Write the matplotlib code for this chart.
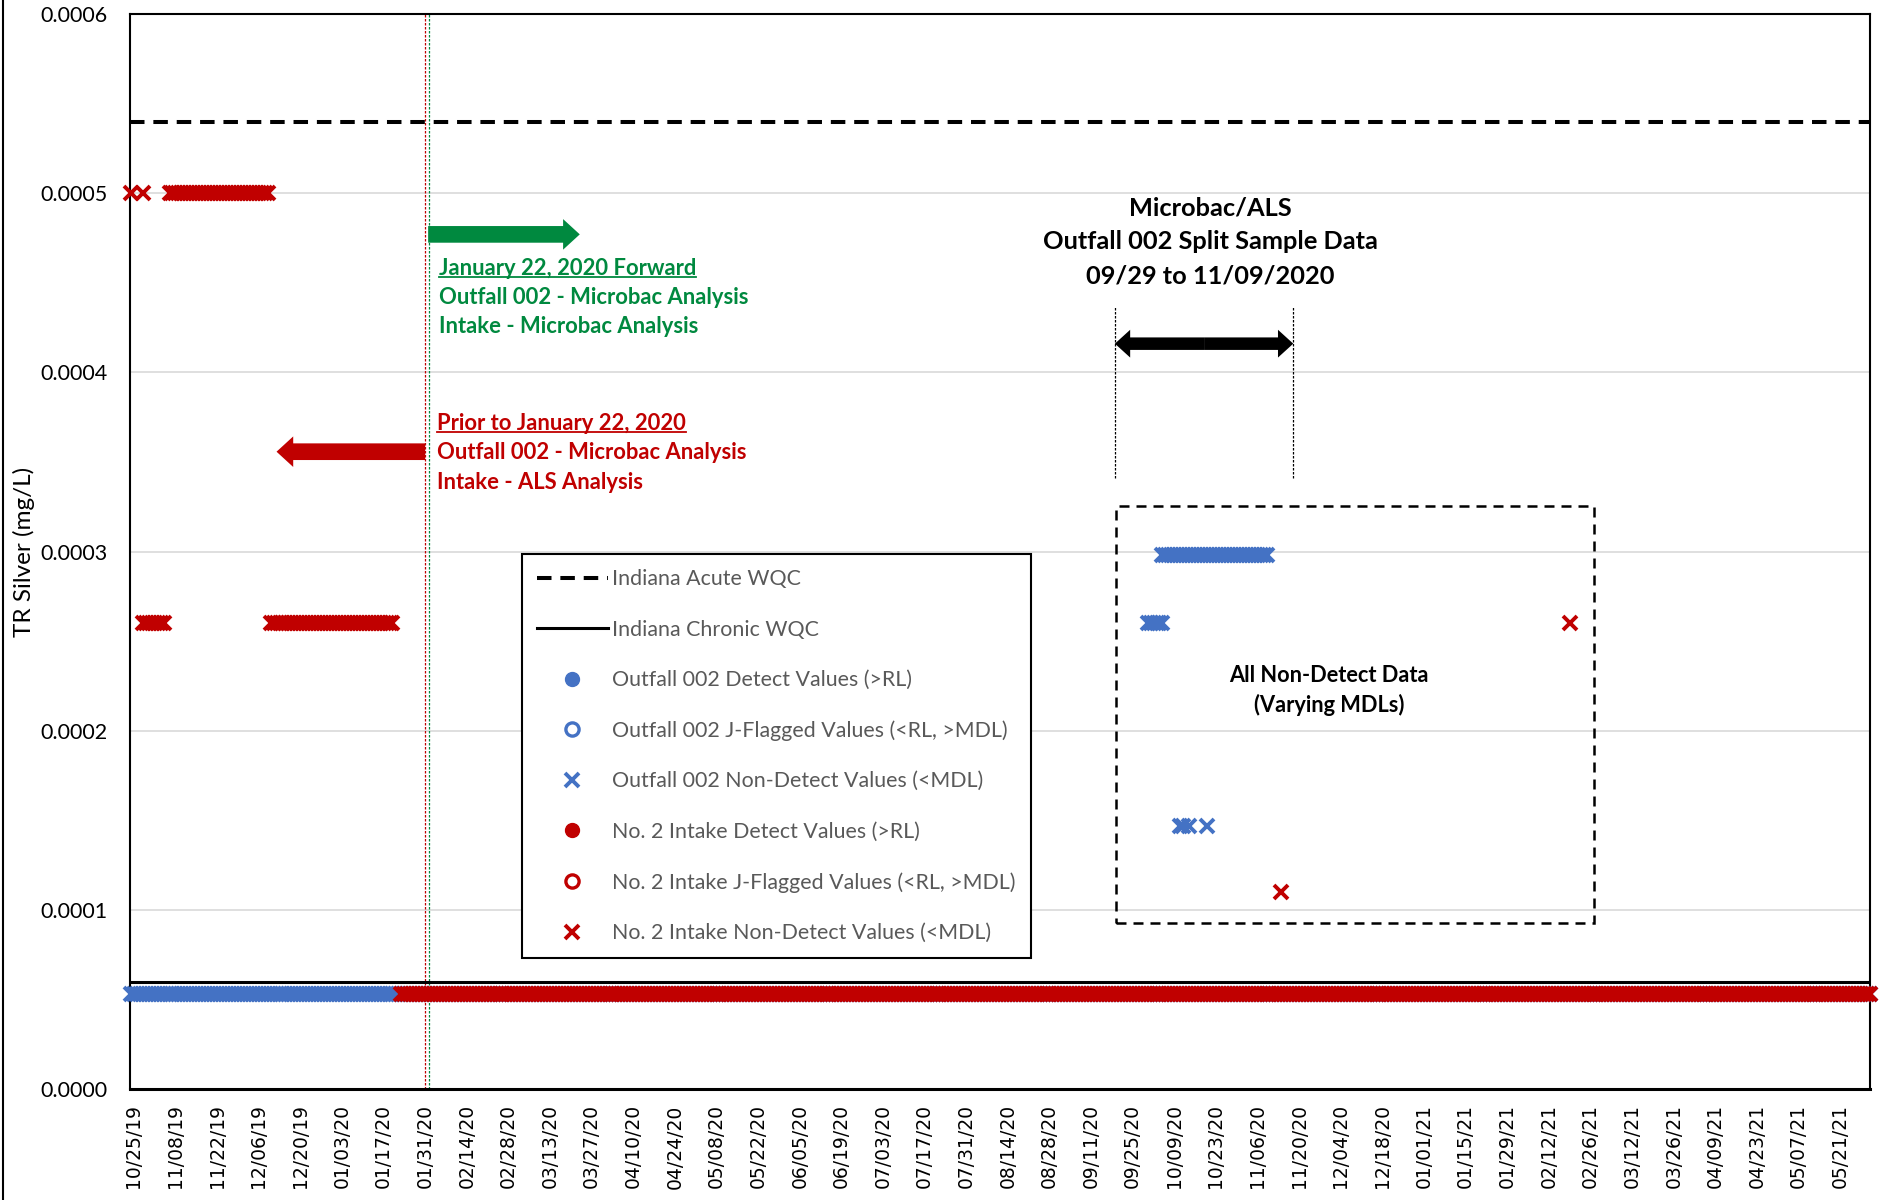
import pandas as pd
import matplotlib
matplotlib.use("Agg")
import matplotlib.pyplot as plt
import matplotlib.dates as mdates
from matplotlib.patches import FancyArrowPatch, Rectangle
from matplotlib.lines import Line2D

# ---------------------------------------------------------------- data
# Water quality criteria (mg/L)
acute_wqc = 0.00054
chronic_wqc = 0.00006

# Outfall 002 non-detects reported as continuous daily runs: first day, last day, MDL
outfall_nd_start = ["2019-10-24", "2020-09-30", "2020-10-05"]
outfall_nd_end = ["2021-05-31", "2020-10-05", "2020-11-09"]
outfall_nd_value = [0.000053, 0.00026, 0.000298]
# Outfall 002 individual non-detects
outfall_nd_dates = ["2020-10-11", "2020-10-12", "2020-10-14", "2020-10-20"]
outfall_nd_values = [0.000147, 0.000147, 0.000147, 0.000147]

# No. 2 Intake non-detects, daily runs
intake_nd_start = ["2019-11-06", "2019-10-28", "2019-12-10", "2020-01-23"]
intake_nd_end = ["2019-12-09", "2019-11-04", "2020-01-20", "2021-05-31"]
intake_nd_value = [0.0005, 0.00026, 0.00026, 0.000053]
# No. 2 Intake individual non-detects
intake_nd_dates = ["2019-10-24", "2019-10-28", "2020-11-14", "2021-02-19"]
intake_nd_values = [0.0005, 0.0005, 0.00011, 0.00026]

# Detects and J-flagged results (none in this period)
outfall_detect_dates, outfall_detect_values = [], []
outfall_jflag_dates, outfall_jflag_values = [], []
intake_detect_dates, intake_detect_values = [], []
intake_jflag_dates, intake_jflag_values = [], []

tick_labels = [
    "10/25/19", "11/08/19", "11/22/19", "12/06/19", "12/20/19", "01/03/20",
    "01/17/20", "01/31/20", "02/14/20", "02/28/20", "03/13/20", "03/27/20",
    "04/10/20", "04/24/20", "05/08/20", "05/22/20", "06/05/20", "06/19/20",
    "07/03/20", "07/17/20", "07/31/20", "08/14/20", "08/28/20", "09/11/20",
    "09/25/20", "10/09/20", "10/23/20", "11/06/20", "11/20/20", "12/04/20",
    "12/18/20", "01/01/21", "01/15/21", "01/29/21", "02/12/21", "02/26/21",
    "03/12/21", "03/26/21", "04/09/21", "04/23/21", "05/07/21", "05/21/21",
]
y_ticks = [0.0, 0.0001, 0.0002, 0.0003, 0.0004, 0.0005, 0.0006]


def expand(starts, ends, values, dates, singles):
    xs, ys = [], []
    for s, e, v in zip(starts, ends, values):
        rng = pd.date_range(s, e, freq="D")
        xs.extend(rng)
        ys.extend([v] * len(rng))
    xs.extend(pd.to_datetime(dates))
    ys.extend(singles)
    return xs, ys


out_x, out_y = expand(outfall_nd_start, outfall_nd_end, outfall_nd_value,
                      outfall_nd_dates, outfall_nd_values)
int_x, int_y = expand(intake_nd_start, intake_nd_end, intake_nd_value,
                      intake_nd_dates, intake_nd_values)

# ---------------------------------------------------------------- style
BLUE = "#4472C4"
RED = "#C00000"
GREEN = "#00893F"
FONT = "Lato"

W, H = 1885, 1200
fig = plt.figure(figsize=(W / 100, H / 100), dpi=100)
ax = fig.add_axes([130 / W, 1 - 1089 / H, 1740 / W, 1075 / H])

x0 = pd.Timestamp("2019-10-23 17:00")
x1 = pd.Timestamp("2021-05-31")
ax.set_xlim(x0, x1)
ax.set_ylim(0, 0.0006)

ax.set_yticks(y_ticks)
ax.set_yticklabels([f"{v:.4f}" for v in y_ticks], fontfamily=FONT, fontsize=15.5)
ax.grid(axis="y", color="#D9D9D9", linewidth=1.2, zorder=0)
ax.set_axisbelow(True)

ax.set_xticks(pd.to_datetime(tick_labels, format="%m/%d/%y"))
ax.set_xticklabels(tick_labels, rotation=90, fontfamily="DejaVu Sans", fontsize=13.5)
ax.tick_params(axis="both", length=0)
ax.tick_params(axis="x", pad=11)
ax.tick_params(axis="y", pad=16)

for side, lw in (("left", 1.5), ("right", 1.5), ("top", 1.5), ("bottom", 2.2)):
    ax.spines[side].set_color("black")
    ax.spines[side].set_linewidth(lw)

ax.set_ylabel("TR Silver (mg/L)", fontfamily=FONT, fontsize=17.5)
ax.yaxis.label.set_va("center")
ax.yaxis.set_label_coords(-0.061, 0.5)

# ---------------------------------------------------------------- series
mk = dict(linestyle="none", clip_on=False)
ax.plot([x0, x1], [acute_wqc, acute_wqc], color="black", lw=2.9,
        linestyle=(0, (3.6, 2.2)), label="Indiana Acute WQC", zorder=3)
ax.plot([x0, x1], [chronic_wqc, chronic_wqc], color="black", lw=2.2,
        label="Indiana Chronic WQC", zorder=3)
ax.plot(outfall_detect_dates, outfall_detect_values, marker="o", ms=10,
        color=BLUE, label="Outfall 002 Detect Values (>RL)", **mk)
ax.plot(outfall_jflag_dates, outfall_jflag_values, marker="o", ms=9.5, mew=2.4,
        mfc="white", mec=BLUE, label="Outfall 002 J-Flagged Values (<RL, >MDL)", **mk)
ax.plot(out_x, out_y, marker="x", ms=10, mew=2.8, color=BLUE,
        label="Outfall 002 Non-Detect Values (<MDL)", zorder=4, **mk)
ax.plot(intake_detect_dates, intake_detect_values, marker="o", ms=10,
        color=RED, label="No. 2 Intake Detect Values (>RL)", **mk)
ax.plot(intake_jflag_dates, intake_jflag_values, marker="o", ms=9.5, mew=2.4,
        mfc="white", mec=RED, label="No. 2 Intake J-Flagged Values (<RL, >MDL)", **mk)
ax.plot(int_x, int_y, marker="x", ms=10, mew=2.8, color=RED,
        label="No. 2 Intake Non-Detect Values (<MDL)", zorder=5, **mk)

leg = ax.legend(loc="upper left", bbox_to_anchor=(0.2251, 0.4978),
                bbox_transform=ax.transAxes, borderaxespad=0, frameon=True,
                fancybox=False, edgecolor="black", framealpha=1, numpoints=1,
                handlelength=3.3, handletextpad=0.22, borderpad=0.72,
                labelspacing=1.42, labelcolor="#595959",
                prop={"family": FONT, "size": 15.4})
leg.get_frame().set_linewidth(1.5)
leg.set_zorder(6)

# ---------------------------------------------------------------- annotations
def d(s):
    return mdates.date2num(pd.Timestamp(s))


# method change boundary
ax.axvline(pd.Timestamp("2020-01-31 00:00"), color=RED, lw=0.9,
           linestyle=(0, (2, 1.2)), zorder=2)
ax.axvline(pd.Timestamp("2020-02-01 09:00"), color=GREEN, lw=0.9,
           linestyle=(0, (2, 1.2)), zorder=2)

block = "simple,head_length=12,head_width=22,tail_width=12"
ax.add_patch(FancyArrowPatch((d("2020-02-01"), 0.000477), (d("2020-03-23"), 0.000477),
                             arrowstyle=block, mutation_scale=1, color=GREEN, lw=0,
                             shrinkA=0, shrinkB=0, zorder=6))
ax.add_patch(FancyArrowPatch((d("2020-01-31"), 0.0003557), (d("2019-12-12"), 0.0003557),
                             arrowstyle=block, mutation_scale=1, color=RED, lw=0,
                             shrinkA=0, shrinkB=0, zorder=6))

note = dict(fontfamily=FONT, fontweight="bold", fontsize=15.8, va="center",
            ha="left", zorder=7)
underlined = []
tx = pd.Timestamp("2020-02-04 12:00")
underlined.append(ax.text(tx, 0.0004577, "January 22, 2020 Forward", color=GREEN, **note))
ax.text(tx, 0.0004417, "Outfall 002 - Microbac Analysis", color=GREEN, **note)
ax.text(tx, 0.0004257, "Intake - Microbac Analysis", color=GREEN, **note)

tx = pd.Timestamp("2020-02-04")
underlined.append(ax.text(tx, 0.0003712, "Prior to January 22, 2020", color=RED, **note))
ax.text(tx, 0.0003551, "Outfall 002 - Microbac Analysis", color=RED, **note)
ax.text(tx, 0.0003383, "Intake - ALS Analysis", color=RED, **note)

# split sample window
tc = pd.Timestamp("2020-10-21")
for yv, s in ((0.0004916, "Microbac/ALS"),
              (0.0004728, "Outfall 002 Split Sample Data"),
              (0.000454, "09/29 to 11/09/2020")):
    ax.text(tc, yv, s, color="black", fontfamily=FONT, fontweight="bold",
            fontsize=18.3, ha="center", va="center", zorder=7)

xa, xb = d("2020-09-19"), d("2020-11-18")
xm = (xa + xb) / 2
for xe in (xa, xb):
    ax.plot([xe, xe], [0.000341, 0.000437], color="black", lw=0.9,
            linestyle=(0, (2, 1.2)), zorder=6)
    ax.add_patch(FancyArrowPatch((xm, 0.000416), (xe, 0.000416),
                                 arrowstyle="simple,head_length=11,head_width=20,tail_width=9",
                                 mutation_scale=1, color="black", lw=0, shrinkA=0,
                                 shrinkB=0, zorder=6))

# non-detect box
ra, rb = d("2020-09-19 12:00"), d("2021-02-27")
ax.add_patch(Rectangle((ra, 0.0000926), rb - ra, 0.0003255 - 0.0000926, fill=False,
                       edgecolor="black", lw=1.8, linestyle=(0, (4, 2.8)), zorder=6))
tc = pd.Timestamp("2020-11-30")
ax.text(tc, 0.0002309, "All Non-Detect Data", color="black", fontfamily=FONT,
        fontweight="bold", fontsize=15.7, ha="center", va="center", zorder=7)
ax.text(tc, 0.0002141, "(Varying MDLs)", color="black", fontfamily=FONT,
        fontweight="bold", fontsize=15.7, ha="center", va="center", zorder=7)

# frame edge on the left of the figure
fig.add_artist(Line2D([2.5 / W, 2.5 / W], [0, 1], color="black", lw=1.5,
                      transform=fig.transFigure))

# underline the heading lines
fig.canvas.draw()
renderer = fig.canvas.get_renderer()
for t in underlined:
    bb = t.get_window_extent(renderer)
    yy = bb.y0 + 0.1 * bb.height
    fig.add_artist(Line2D([bb.x0 / W, bb.x1 / W], [yy / H, yy / H],
                          color=t.get_color(), lw=1.3, transform=fig.transFigure))

fig.savefig("out.png", dpi=100)
